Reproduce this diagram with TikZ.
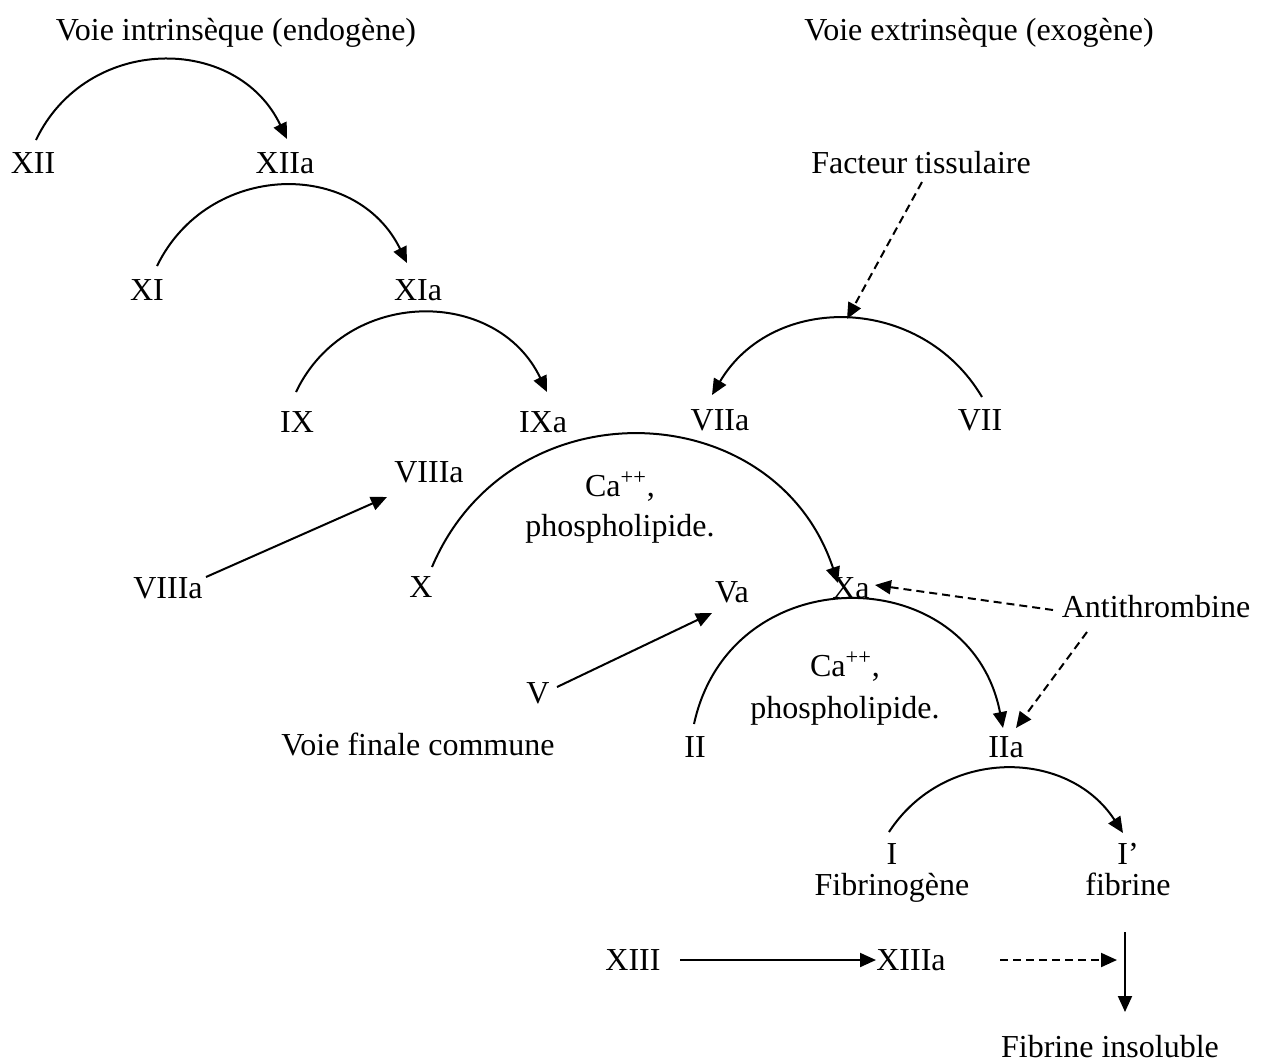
\documentclass[tikz,border=0pt]{standalone}
\usepackage{fontspec}
\setmainfont{Liberation Serif}
\usetikzlibrary{arrows.meta,calc}
\begin{document}
\begin{tikzpicture}[x=0.5pt,y=0.5pt,
  lbl/.style={inner sep=0pt,anchor=base,font=\fontsize{16}{19}\selectfont},
  conn/.style={line width=1pt,-{Triangle[length=8pt,width=7pt]}},
  dconn/.style={conn,dash pattern=on 4pt off 2.5pt},
  arcstyle/.style={conn}]
\useasboundingbox (0,0) rectangle (1264,-1062);
% titles
\node[lbl] (intr) at (236,-40) {Voie intrinsèque (endogène)};
\node[lbl] (extr) at (979,-40) {Voie extrinsèque (exogène)};
% nodes
\node[lbl] (XII)  at (33,-173)  {XII};
\node[lbl] (XIIa) at (285,-173) {XIIa};
\node[lbl] (FT)   at (921,-173) {Facteur tissulaire};
\node[lbl] (XI)   at (147,-300) {XI};
\node[lbl] (XIa)  at (418,-300) {XIa};
\node[lbl] (IX)   at (297,-432) {IX};
\node[lbl] (IXa)  at (543,-432) {IXa};
\node[lbl] (VIIa) at (720,-430) {VIIa};
\node[lbl] (VII)  at (980,-430) {VII};
\node[lbl] (VIIIb) at (429,-482) {VIIIa};
\node[lbl] (VIIIa) at (168,-598) {VIIIa};
\node[lbl] (X)    at (421,-597) {X};
\node[lbl,anchor=north,align=center,font=\fontsize{16}{20}\selectfont] (ca1) at (620,-471) {Ca\textsuperscript{++},\\phospholipide.};
\node[lbl] (Xa)   at (851,-598) {Xa};
\node[lbl] (Va)   at (732,-602) {Va};
\node[lbl] (AT)   at (1156,-617) {Antithrombine};
\node[lbl] (V)    at (538,-703) {V};
\node[lbl,anchor=north,align=center,font=\fontsize{16}{21}\selectfont] (ca2) at (845,-651) {Ca\textsuperscript{++},\\phospholipide.};
\node[lbl] (VFC)  at (418,-755) {Voie finale commune};
\node[lbl] (II)   at (695,-757) {II};
\node[lbl] (IIa)  at (1006,-757) {IIa};
\node[lbl,anchor=north,align=center,font=\fontsize{16}{15.5}\selectfont] (I) at (892,-843) {I\\Fibrinogène};
\node[lbl,anchor=north,align=center,font=\fontsize{16}{15.5}\selectfont] (Ip) at (1128,-843) {I’\\fibrine};
\node[lbl] (XIII)  at (633,-970) {XIII};
\node[lbl] (XIIIa) at (911,-970) {XIIIa};
\node[lbl] (FI)    at (1110,-1057) {Fibrine insoluble};
% arcs
\draw[arcstyle] ([shift={(3,33)}]XII.base) to[out=64.5,in=115.5,looseness=1.19] ([shift={(2,34)}]XIIa.base);
\draw[arcstyle] ([shift={(10,34)}]XI.base) to[out=64,in=116,looseness=1.19] ([shift={(-11,37)}]XIa.base);
\draw[arcstyle] ([shift={(-1,40)}]IX.base) to[out=64.5,in=115.5,looseness=1.19] ([shift={(4,40)}]IXa.base);
\draw[arcstyle] ([shift={(2,33)}]VII.base) to[out=120.6,in=59.4,looseness=1.13] coordinate[pos=0.5] (pk) ([shift={(-8,35)}]VIIa.base);
\draw[arcstyle] ([shift={(11,30)}]X.base) to[out=67,in=108.4,looseness=1.257] ([shift={(-13,15)}]Xa.base);
\draw[arcstyle] ([shift={(-1,33)}]II.base) to[out=77.7,in=100.9,looseness=1.42] ([shift={(-3,29)}]IIa.base);
\draw[arcstyle] ([shift={(-3,11)}]I.north) to[out=57,in=123,looseness=1.105] ([shift={(-5,10)}]Ip.north);
% straight connectors
\draw[conn] ([shift={(38,21)}]VIIIa.base) -- ([shift={(-42,-15)}]VIIIb.base);
\draw[conn] ([shift={(19,16)}]V.base) -- ([shift={(-20,-11)}]Va.base);
\draw[dconn] ([shift={(1,-9)}]FT.base) -- (pk);
\draw[dconn] ([shift={(-103,7)}]AT.base) -- ([shift={(24,13)}]Xa.base);
\draw[dconn] ([shift={(-69,-15)}]AT.base) -- ([shift={(10,29)}]IIa.base);
\draw[conn] ([shift={(47,10)}]XIII.base) -- ([shift={(-35,10)}]XIIIa.base);
\draw[dconn] ([shift={(89,10)}]XIIIa.base) -- ([shift={(206,10)}]XIIIa.base);
\draw[conn] ([shift={(-3,-89)}]Ip.north) -- ([shift={(15,45)}]FI.base);
\end{tikzpicture}
\end{document}
